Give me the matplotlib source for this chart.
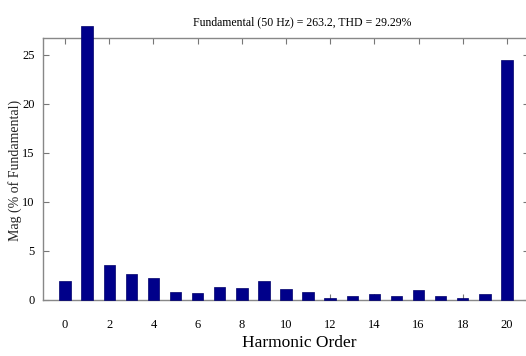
import matplotlib
matplotlib.use("Agg")
import matplotlib.pyplot as plt
import numpy as np

harmonics = list(range(0, 21))
magnitudes = [1.9, 27.9, 3.6, 2.6, 2.2, 0.8, 0.7, 1.3, 1.2, 1.9, 1.15,
              0.85, 0.25, 0.45, 0.65, 0.45, 1.0, 0.45, 0.25, 0.65, 24.5]
xticks = list(range(0, 21, 2))
yticks = [0, 5, 10, 15, 20, 25]
title = "Fundamental (50 Hz) = 263.2, THD = 29.29%"
xlabel = "Harmonic Order"
ylabel = "Mag (% of Fundamental)"

plt.rcParams['font.family'] = ['Liberation Serif', 'DejaVu Serif']

fig = plt.figure(figsize=(5.26, 3.56), dpi=100)
ax = fig.add_axes([43/526, 56/356, 486/526, 262/356])

ax.bar(harmonics, magnitudes, width=0.52, color='#00008a', edgecolor='#00006a',
       linewidth=0.5, clip_on=False, zorder=3)
ax.set_xlim(-1, 21)
ax.set_ylim(0, 26.7)
ax.set_xticks(xticks)
ax.set_yticks(yticks)
ax.tick_params(direction='in', top=True, right=True, length=4, width=0.8,
               color='#777777', labelsize=9)
ax.tick_params(axis='x', pad=14)
ax.tick_params(axis='y', pad=6)
for s in ax.spines.values():
    s.set_color('#888888')
    s.set_linewidth(1.0)

fig.text(302/526, 1 - 22/356, title, ha='center', va='center', fontsize=8.5)
fig.text(299/526, 1 - 343/356, xlabel, ha='center', va='center', fontsize=12.5)
fig.text(15/526, 1 - 170/356, ylabel, ha='center', va='center', fontsize=10,
         rotation=90, color='#222222')

fig.savefig("out.png", dpi=100)
